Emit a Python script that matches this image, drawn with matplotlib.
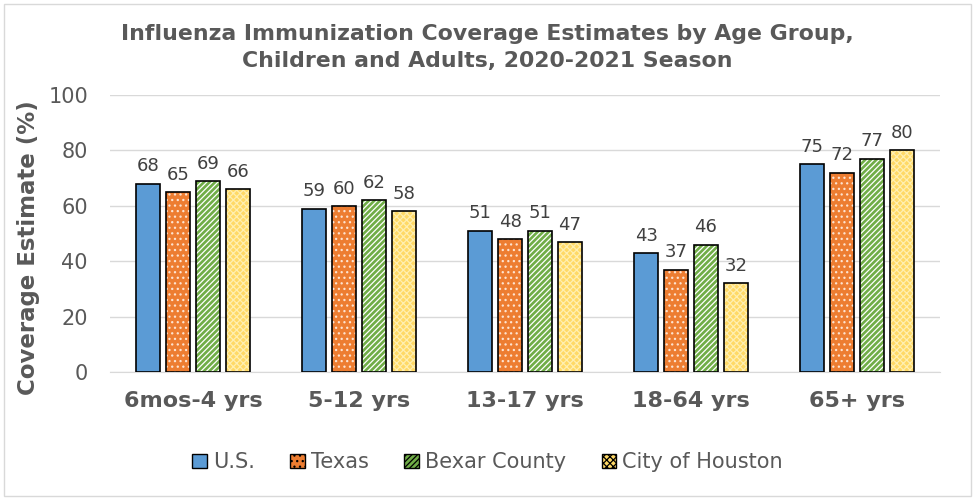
import numpy as np
import matplotlib.pyplot as plt
from matplotlib.patches import Patch, Rectangle

# Datos
grupos = ["6mos-4 yrs", "5-12 yrs", "13-17 yrs", "18-64 yrs", "65+ yrs"]
series = ["U.S.", "Texas", "Bexar County", "City of Houston"]
us = [68, 59, 51, 43, 75]
texas = [65, 60, 48, 37, 72]
bexar = [69, 62, 51, 46, 77]
houston = [66, 58, 47, 32, 80]

colores = ["#5B9BD5", "#ED7D31", "#70AD47", "#FFD966"]
tramas = [None, "...", "//////", "xxxxx"]
color_trama = ["white", "#FDE3D0", "white", "#FFEFB0"]

plt.rcParams["font.family"] = ["DejaVu Sans"]
plt.rcParams["hatch.linewidth"] = 0.9
gris = "#595959"

fig = plt.figure(figsize=(9.75, 4.98), dpi=100)
ax = fig.add_axes([0.113, 0.253, 0.851, 0.556])

# marco del área del gráfico
fig.patches.append(Rectangle((0.004, 0.004), 0.992, 0.988, transform=fig.transFigure,
                             fill=False, edgecolor="#D9D9D9", linewidth=1))

x = np.arange(len(grupos))
ancho = 0.143
paso = 0.18
valores = [us, texas, bexar, houston]

for i, (vals, color, trama, ct) in enumerate(zip(valores, colores, tramas, color_trama)):
    pos = x + (i - 1.5) * paso
    # relleno con trama
    ax.bar(pos, vals, ancho, color=color, hatch=trama, edgecolor=ct,
           linewidth=0, zorder=2)
    # contorno negro
    ax.bar(pos, vals, ancho, fill=False, edgecolor="black", linewidth=1.2, zorder=3)
    for px, v in zip(pos, vals):
        ax.text(px, v + 3, str(v), ha="center", va="bottom", fontsize=13,
                color="#404040")

ax.set_xlim(-0.5, len(grupos) - 0.5)
ax.set_ylim(0, 100)
ax.set_yticks(range(0, 101, 20))
ax.set_xticks(x)
ax.set_xticklabels(grupos, fontsize=16, fontweight="bold", color=gris)
ax.tick_params(axis="y", labelsize=15, labelcolor=gris, length=0, pad=16)
ax.tick_params(axis="x", length=0, pad=14)
ax.grid(axis="y", color="#D9D9D9", linewidth=1, zorder=0)
ax.set_axisbelow(True)
for lado in ["top", "right", "left"]:
    ax.spines[lado].set_visible(False)
ax.spines["bottom"].set_color("#D9D9D9")

ax.set_ylabel("Coverage Estimate (%)", fontsize=16.5, fontweight="bold", color=gris)
ax.yaxis.set_label_coords(-0.084, 0.45)

fig.text(0.5, 0.905, "Influenza Immunization Coverage Estimates by Age Group,\n"
         "Children and Adults, 2020-2021 Season", ha="center", va="center",
         fontsize=15.8, fontweight="bold", color=gris, linespacing=1.4)

handles = [Patch(facecolor=c, hatch=t, edgecolor=ct, linewidth=0)
           for c, t, ct in zip(colores, tramas, color_trama)]
leg = fig.legend(handles, series, loc="center", bbox_to_anchor=(0.5, 0.072), ncol=4,
                 frameon=False, fontsize=15, handlelength=0.7, handleheight=0.7,
                 handletextpad=0.3, columnspacing=1.7, labelcolor=gris)
for h in leg.legend_handles:
    h.set_edgecolor("black")
    h.set_linewidth(1)

fig.savefig("out.png", dpi=100)
